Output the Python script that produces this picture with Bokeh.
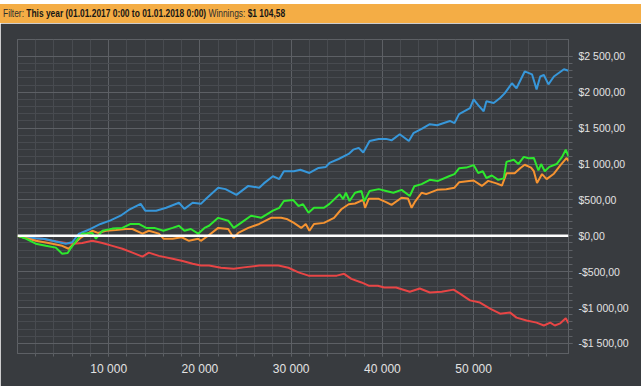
from bokeh.plotting import figure
from bokeh.models import Range1d, FixedTicker, Span, Div
from bokeh.layouts import column
from bokeh.embed import file_html
from bokeh.resources import INLINE

# ---------------- data ----------------
blue_x = [0, 900, 2000, 3000, 4200, 5300, 6000, 6700, 8000, 9100, 10200, 11300, 12200, 13500, 14000, 15200, 16300, 17700, 18300, 19200,
          20100, 20700, 22000, 22800, 24000, 25300, 26500, 27000, 28000, 28700, 29200, 30300, 31000, 32000, 33000, 33800, 34200, 35200, 36300, 36800,
          37400, 37900, 38600, 39600, 40400, 41000, 41900, 42900, 43400, 44300, 45200, 46000, 47400, 47900, 48400, 49600, 50000, 50500, 51100, 51400,
          52200, 52900, 53400, 54200, 54700, 55600, 56400, 56900, 57300, 57700, 58200, 58800, 59900, 60400]
blue_y = [0, -20, -35, -45, -80, -110, -90, 25, 95, 165, 215, 280, 360, 445, 350, 350, 390, 460, 375, 460,
          445, 520, 670, 650, 570, 695, 670, 730, 830, 790, 900, 900, 920, 875, 945, 960, 1015, 1070, 1140, 1200,
          1225, 1160, 1320, 1350, 1350, 1330, 1415, 1320, 1430, 1490, 1555, 1540, 1600, 1570, 1695, 1780, 1900, 1820, 1735, 1875,
          1850, 1920, 1985, 2125, 2055, 2290, 2250, 2040, 2220, 2240, 2110, 2220, 2320, 2300]

green_x = [0, 900, 2000, 3100, 4200, 4900, 5500, 5800, 6700, 7100, 8200, 8600, 9300, 10400, 11500, 12400, 13300, 14100, 15000, 16000,
           17000, 17700, 18300, 19000, 19800, 20500, 21000, 22000, 23100, 23700, 24500, 25600, 26700, 28000, 28700, 29200, 30200, 30800, 31300, 31900,
           32500, 33600, 34200, 35300, 35700, 36000, 36400, 37000, 37700, 38000, 38600, 39600, 40400, 41200, 42100, 43000, 43500, 44300, 45200, 46100,
           47300, 47900, 48400, 49200, 50000, 50500, 51000, 51400, 52000, 52700, 53300, 53600, 54400, 54900, 55500, 56000, 56600, 57100, 57400, 57800,
           58300, 59100, 59700, 60100, 60400]
green_y = [0, -40, -110, -140, -165, -250, -240, -180, -30, 30, 40, -40, 70, 100, 110, 165, 165, 110, 110, 70,
           110, 140, 70, 95, 30, 110, 140, 250, 210, 110, 180, 280, 250, 350, 390, 485, 500, 415, 440, 320,
           390, 390, 445, 580, 510, 600, 485, 600, 625, 480, 625, 650, 625, 600, 640, 555, 690, 720, 780, 765,
           830, 860, 940, 950, 985, 875, 900, 805, 840, 780, 800, 1030, 1060, 1000, 1100, 1080, 1085, 910, 1000, 900,
           960, 1000, 1100, 1200, 1105]

orange_x = [0, 900, 2000, 3400, 4900, 5600, 6100, 6900, 8200, 8800, 9700, 10800, 11900, 12600, 13700, 14400, 15500, 16000, 17000, 18000,
            18800, 19800, 20100, 20900, 22000, 23100, 23700, 24200, 25300, 26500, 27800, 28900, 29500, 30300, 31100, 31600, 32000, 32500, 33600, 34700,
            35500, 36300, 37000, 37900, 38100, 38500, 39600, 40400, 41000, 42100, 42800, 43200, 43600, 44300, 44800, 46000, 47000, 47900, 48400, 49500,
            50000, 50900, 51600, 52500, 53100, 53600, 54500, 55100, 55600, 56300, 56600, 56950, 57500, 58000, 58800, 59500, 60200, 60400]
orange_y = [0, -30, -70, -100, -140, -180, -120, -30, 70, 40, 70, 80, 95, 95, 30, 70, 30, -40, -40, -20,
            -70, -40, -70, 0, 110, 95, -30, 40, 110, 165, 250, 250, 235, 180, 110, 165, 70, 165, 180, 250,
            370, 440, 450, 500, 390, 515, 515, 470, 430, 530, 520, 390, 480, 600, 580, 640, 650, 670, 745, 765,
            770, 695, 765, 730, 700, 870, 870, 940, 990, 950, 900, 735, 860, 790, 865, 980, 1085, 1040]

red_x = [0, 900, 2700, 3800, 5300, 6200, 7100, 8200, 9300, 10400, 11500, 12600, 13700, 14400, 15500, 17000, 18100, 19200, 20100, 21000,
         22300, 23700, 24800, 26500, 28600, 29700, 30800, 31900, 33600, 35000, 35800, 36600, 37700, 38500, 39500, 40200, 41500, 43000, 44100, 45200,
         46500, 47800, 48500, 49600, 50700, 51800, 52900, 54000, 54700, 55800, 56900, 57700, 58400, 58900, 59500, 60100, 60400]
red_y = [0, -30, -40, -70, -100, -110, -100, -70, -100, -140, -180, -235, -290, -235, -280, -320, -350, -390, -415, -415,
         -445, -460, -440, -415, -415, -445, -510, -555, -555, -555, -530, -600, -650, -695, -695, -720, -720, -780, -735, -790,
         -780, -750, -805, -900, -930, -1015, -1085, -1070, -1140, -1180, -1210, -1250, -1210, -1250, -1220, -1150, -1220]

x_ticks = [10000, 20000, 30000, 40000, 50000]
x_tick_labels = ["10 000", "20 000", "30 000", "40 000", "50 000"]
x_minor = list(range(2000, 58001, 2000))

y_ticks = [-1500, -1000, -500, 0, 500, 1000, 1500, 2000, 2500]
y_tick_labels = ["-$1 500,00", "-$1 000,00", "-$500,00", "$0,00", "$500,00",
                 "$1 000,00", "$1 500,00", "$2 000,00", "$2 500,00"]
y_minor = list(range(-1500, 2501, 100))

filter_label = "Filter:"
filter_value = "This year (01.01.2017 0:00 to 01.01.2018 0:00)"
winnings_label = "Winnings:"
winnings_value = "$1 104,58"

# ---------------- style ----------------
ORANGE_BAR = "#f4ad45"
TOP_STRIP = "#37445c"
BG = "#383b3f"
MAJOR = "#5d6065"
MINOR = "#484b50"
FONT = "Liberation Sans"
W = 641

# thin window strip above the header
strip = figure(width=W, height=4, x_range=Range1d(0, 1), y_range=Range1d(0, 1),
               toolbar_location=None, output_backend="svg",
               x_axis_type=None, y_axis_type=None, min_border=0)
strip.background_fill_color = TOP_STRIP
strip.border_fill_color = TOP_STRIP
strip.outline_line_color = None

# header bar (mixed normal / bold text flows naturally)
header_html = (
    '<div style="height:19px;line-height:19px;white-space:nowrap;overflow:hidden;">'
    '<span style="display:inline-block;margin-left:3px;transform:scaleX(0.80);transform-origin:left center;">'
    f'<span style="color:#2e2e2e">{filter_label}</span> '
    f'<b style="color:#161616">{filter_value}</b> '
    f'<span style="color:#2e2e2e">{winnings_label}</span> '
    f'<b style="color:#161616">{winnings_value}</b>'
    '</span></div>'
)
header = Div(text=header_html, width=W, height=19,
             styles={"background-color": ORANGE_BAR, "font-family": FONT,
                     "font-size": "10.5px", "margin": "0", "padding": "0",
                     "overflow": "hidden"})

# main chart
p = figure(width=W, height=363, x_range=Range1d(0, 60400), y_range=Range1d(-1640, 2735),
           y_axis_location="right", toolbar_location=None, output_backend="svg",
           min_border_left=17, min_border_right=73, min_border_top=16, min_border_bottom=33)
p.background_fill_color = BG
p.border_fill_color = BG
p.outline_line_color = MAJOR

xt = FixedTicker(ticks=x_ticks, minor_ticks=x_minor)
yt = FixedTicker(ticks=y_ticks, minor_ticks=y_minor)
p.xaxis.ticker = xt
p.yaxis.ticker = yt
p.xgrid.ticker = xt
p.ygrid.ticker = yt
p.xaxis.major_label_overrides = dict(zip(x_ticks, x_tick_labels))
p.yaxis.major_label_overrides = dict(zip(y_ticks, y_tick_labels))

for g in (p.xgrid, p.ygrid):
    g.grid_line_color = MAJOR
    g.grid_line_width = 1
    g.minor_grid_line_color = MINOR
    g.minor_grid_line_width = 1

for ax in p.axis:
    ax.axis_line_color = None
    ax.major_tick_line_color = MAJOR
    ax.minor_tick_line_color = MAJOR
    ax.major_tick_in = 0
    ax.minor_tick_in = 0
    ax.major_label_text_color = "#e2e2e2"
    ax.major_label_text_font = FONT

p.yaxis.major_tick_out = 4
p.yaxis.minor_tick_out = 4
p.yaxis.major_label_standoff = 6
p.yaxis.major_label_text_font_size = "10.5px"
p.xaxis.major_tick_out = 3
p.xaxis.minor_tick_out = 3
p.xaxis.major_label_standoff = 5
p.xaxis.major_label_text_font_size = "12px"

p.line(red_x, red_y, line_color="#e84545", line_width=2)
p.line(blue_x, blue_y, line_color="#3797da", line_width=2)
p.line(orange_x, orange_y, line_color="#f59331", line_width=2)
p.line(green_x, green_y, line_color="#2ee82e", line_width=2)

p.add_layout(Span(location=0, dimension="width", line_color="white", line_width=2.5))

layout = column(strip, header, p, spacing=0)
open("out.html", "w").write(file_html(layout, INLINE))
